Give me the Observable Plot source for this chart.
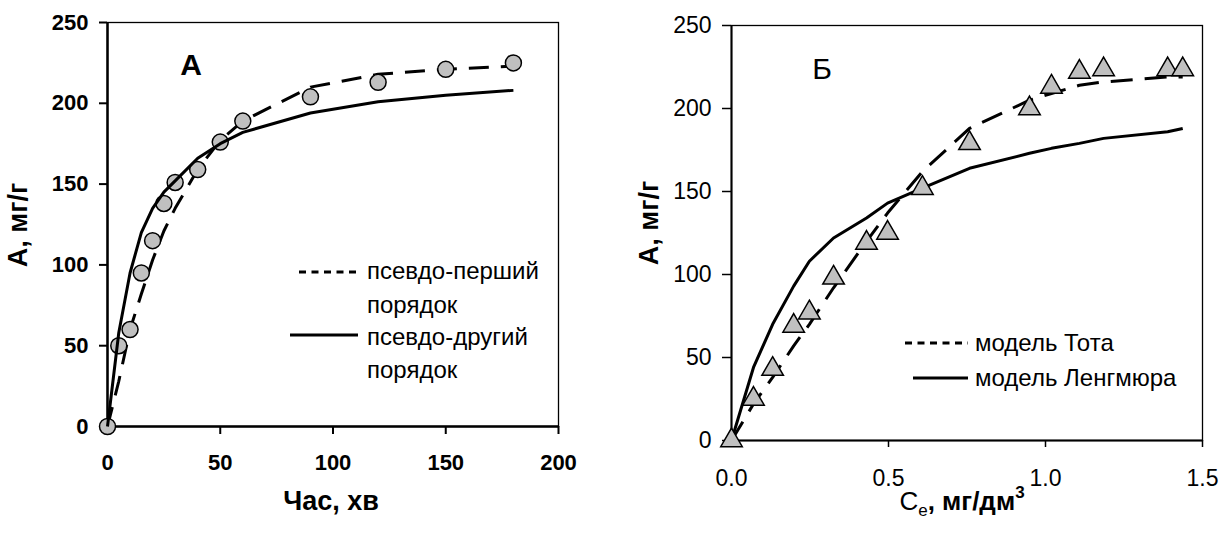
<!DOCTYPE html>
<html>
<head>
<meta charset="utf-8">
<script src="https://cdn.jsdelivr.net/npm/d3@7"></script>
<script src="https://cdn.jsdelivr.net/npm/@observablehq/plot@0.6"></script>
<style>
  html, body { margin: 0; padding: 0; background: #fff; }
  #wrap { display: flex; width: 1224px; height: 533px; }
  #wrap > svg { display: block; }
</style>
</head>
<body>
<div id="wrap"></div>
<script>
// ---------- Panel А: kinetics ----------
const timeMin      = [0, 5, 10, 15, 20, 25, 30, 40, 50, 60, 90, 120, 150, 180];
const adsorptionA  = [0, 50, 60, 95, 115, 138, 151, 159, 176, 189, 204, 213, 221, 225];
const pseudoFirst  = [0, 28, 60, 82, 103, 121, 135, 159, 177, 189, 210, 218, 221, 223];
const pseudoSecond = [0, 58, 95, 120, 135, 145, 152, 166, 175, 182, 194, 201, 205, 208];
const xTicksA = [0, 50, 100, 150, 200];
const yTicksA = [0, 50, 100, 150, 200, 250];

// ---------- Panel Б: isotherms ----------
const ceValues      = [0, 0.07, 0.131, 0.198, 0.248, 0.325, 0.43, 0.497, 0.608, 0.758, 0.949, 1.019, 1.108, 1.185, 1.389, 1.437];
const adsorptionB   = [0, 25, 43, 69, 77, 98, 119, 125, 152, 179, 200, 213, 222, 223.5, 223.5, 223.5];
const tothModel     = [0, 22, 38, 57, 70, 92, 120, 137, 162, 188, 205, 209, 214, 216, 219, 219];
const langmuirModel = [0, 44, 70, 93, 108, 122, 134, 143, 152, 164, 173, 176, 179, 182, 186, 188];
const xTicksB = [0, 0.5, 1.0, 1.5];
const yTicksB = [0, 50, 100, 150, 200, 250];

const FONT = "'Liberation Sans', Arial, Helvetica, sans-serif";

const rowsA = timeMin.map((t, i) => ({t, a: adsorptionA[i], pf: pseudoFirst[i], ps: pseudoSecond[i]}));
const rowsB = ceValues.map((c, i) => ({c, a: adsorptionB[i], toth: tothModel[i], lang: langmuirModel[i]}));

const plotA = Plot.plot({
  width: 612, height: 533,
  marginLeft: 107, marginRight: 54, marginTop: 22, marginBottom: 107,
  x: {domain: [0, 200]},
  y: {domain: [0, 250]},
  style: {fontFamily: FONT, fontSize: "22px", fontWeight: "bold", color: "black", background: "white", overflow: "visible"},
  marks: [
    Plot.frame({stroke: "black", strokeWidth: 1.3}),
    Plot.ruleY([0], {stroke: "black", strokeWidth: 2.5}),
    Plot.ruleX([0], {stroke: "black", strokeWidth: 2.5}),
    Plot.axisX(xTicksA, {tickSize: 8, tickPadding: 20, strokeWidth: 2, label: null, tickFormat: d => String(d)}),
    Plot.axisY(yTicksA, {tickSize: 8, tickPadding: 11, strokeWidth: 2, label: null, tickFormat: d => String(d)}),
    Plot.line(rowsA, {x: "t", y: "pf", stroke: "black", strokeWidth: 3, strokeDasharray: "20,12", strokeLinecap: "butt"}),
    Plot.dot(rowsA, {x: "t", y: "a", r: 8, fill: "#c0c0c0", stroke: "black", strokeWidth: 1.5}),
    Plot.line(rowsA, {x: "t", y: "ps", stroke: "black", strokeWidth: 3, strokeLinecap: "butt"})
  ]
});

const plotB = Plot.plot({
  width: 612, height: 533,
  marginLeft: 119, marginRight: 22, marginTop: 25, marginBottom: 93,
  x: {domain: [0, 1.5]},
  y: {domain: [0, 250]},
  style: {fontFamily: FONT, fontSize: "23px", fontWeight: "normal", color: "black", background: "white", overflow: "visible"},
  marks: [
    Plot.frame({stroke: "black", strokeWidth: 1.3}),
    Plot.ruleY([0], {stroke: "black", strokeWidth: 2}),
    Plot.ruleX([0], {stroke: "black", strokeWidth: 2}),
    Plot.axisX(xTicksB, {tickSize: 7, tickPadding: 22, strokeWidth: 1.5, label: null, tickFormat: d3.format(".1f")}),
    Plot.axisY(yTicksB, {tickSize: 9, tickPadding: 11, strokeWidth: 1.5, label: null, tickFormat: d => String(d)}),
    Plot.line(rowsB, {x: "c", y: "lang", stroke: "black", strokeWidth: 3, strokeLinecap: "butt"}),
    Plot.line(rowsB, {x: "c", y: "toth", stroke: "black", strokeWidth: 3, strokeDasharray: "22,12", strokeLinecap: "butt"}),
    Plot.dot(rowsB, {x: "c", y: "a", symbol: "triangle", r: 8, fill: "#c0c0c0", stroke: "black", strokeWidth: 1.5})
  ]
});

const wrap = document.getElementById("wrap");
wrap.appendChild(plotA);
wrap.appendChild(plotB);

// ---------- text decorations & legends ----------
function addText(svg, txt, x, y, opts = {}) {
  const t = d3.select(svg).append("text")
    .attr("x", x).attr("y", y)
    .attr("fill", "black")
    .attr("font-family", FONT)
    .attr("font-size", opts.size || 22)
    .attr("font-weight", opts.weight || "normal")
    .attr("text-anchor", opts.anchor || "start")
    .text(txt);
  if (opts.rotate) t.attr("transform", `rotate(-90, ${x}, ${y})`);
  return t;
}
function addLine(svg, x1, x2, y, dash) {
  d3.select(svg).append("line")
    .attr("x1", x1).attr("x2", x2).attr("y1", y).attr("y2", y)
    .attr("stroke", "black").attr("stroke-width", 3)
    .attr("stroke-dasharray", dash || null);
}

// Panel А
addText(plotA, "А", 191, 75, {size: 30, weight: "bold", anchor: "middle"});
addText(plotA, "Час, хв", 331, 510, {size: 27, weight: "bold", anchor: "middle"});
addText(plotA, "А, мг/г", 27, 225, {size: 27, weight: "bold", anchor: "middle", rotate: true});
addLine(plotA, 299, 358, 272, "7,5.5");
addText(plotA, "псевдо-перший", 367, 279, {size: 24});
addText(plotA, "порядок", 367, 313, {size: 24});
addLine(plotA, 290, 358, 335);
addText(plotA, "псевдо-другий", 367, 345, {size: 24});
addText(plotA, "порядок", 367, 378, {size: 24});

// Panel Б
addText(plotB, "Б", 822 - 612, 79, {size: 30, anchor: "middle"});
addText(plotB, "А, мг/г", 46, 223, {size: 27, weight: "bold", anchor: "middle", rotate: true});
const xl = d3.select(plotB).append("text")
  .attr("x", 962 - 612).attr("y", 510)
  .attr("fill", "black").attr("font-family", FONT).attr("font-size", 26)
  .attr("font-weight", "bold").attr("text-anchor", "middle");
xl.append("tspan").attr("font-weight", "normal").text("C");
xl.append("tspan").attr("font-size", 17).attr("font-weight", "normal").attr("dy", 6).text("e");
xl.append("tspan").attr("dy", -6).text(", мг/дм");
xl.append("tspan").attr("font-size", 17).attr("dy", -12).text("3");
addLine(plotB, 905 - 612, 968 - 612, 343, "7,5.5");
addText(plotB, "модель Тота", 975 - 612, 351, {size: 24});
addLine(plotB, 913 - 612, 968 - 612, 378);
addText(plotB, "модель Ленгмюра", 975 - 612, 386, {size: 24});
</script>
</body>
</html>
